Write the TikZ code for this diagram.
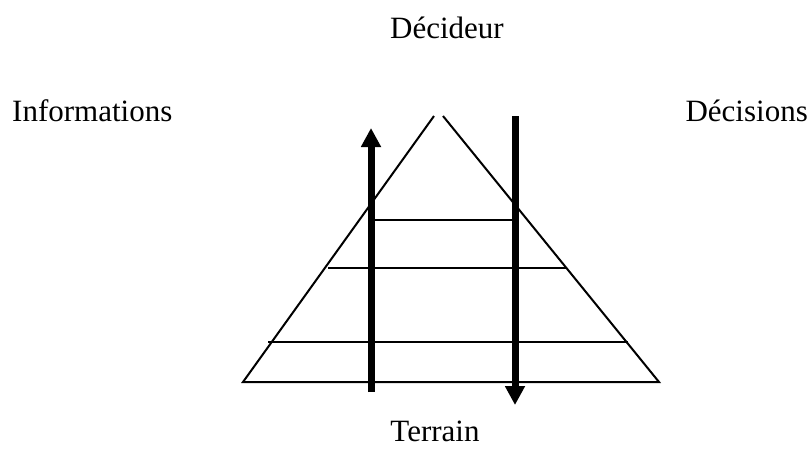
\documentclass[tikz,border=0pt]{standalone}
\usepackage{fontspec}
\setmainfont{Liberation Serif}
\usetikzlibrary{arrows.meta, positioning}

\begin{document}
\begin{tikzpicture}[
    x=1pt, y=-1pt,
    label/.style={inner sep=0pt, font=\fontsize{31}{36}\selectfont},
    edge/.style={line width=2pt},
    flow/.style={line width=7pt, -{Triangle[length=19pt,width=19pt]}}
]
\useasboundingbox (0,0) rectangle (812,448);

% Nodes
\node (top) [label, anchor=base] at (447,38) {Décideur};
\node (info) [label, anchor=base west] at (12,121) {Informations};
\node (dec) [label, anchor=base east] at (808,121) {Décisions};
\node (ground) [label, anchor=base] at (435,441) {Terrain};

% Pyramid
\coordinate (apexl) at (434,116);
\coordinate (apexr) at (443,116);
\coordinate (basel) at (243,382);
\coordinate (baser) at (659,382);
\coordinate (l1a) at (372,220);
\coordinate (l1b) at (514,220);
\coordinate (l2a) at (328,268);
\coordinate (l2b) at (566,268);
\coordinate (l3a) at (268,342);
\coordinate (l3b) at (628,342);
\coordinate (upfrom) at (371,392);
\coordinate (upto) at (371,128);
\coordinate (downfrom) at (515,116);
\coordinate (downto) at (515,405);

% Connections
\draw [edge] (apexl) -- (basel) -- (baser) -- (apexr);
\draw [edge] (l1a) -- (l1b);
\draw [edge] (l2a) -- (l2b);
\draw [edge] (l3a) -- (l3b);
\draw [flow] (upfrom) -- (upto);
\draw [flow] (downfrom) -- (downto);

\end{tikzpicture}
\end{document}
